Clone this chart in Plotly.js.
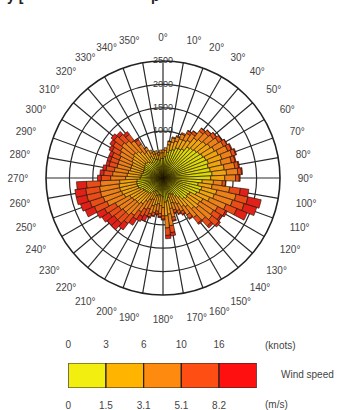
<!DOCTYPE html>
<html>
<head>
<meta charset="utf-8">
<script src="https://cdn.plot.ly/plotly-3.0.1.min.js"></script>
<style>
  html, body { margin: 0; padding: 0; background: #fff; }
  #chart { width: 347px; height: 410px; }
</style>
</head>
<body>
<div id="chart"></div>
<script>
// Wind directions (degrees, sector centres)
const directions = [0,5,10,15,20,25,30,35,40,45,50,55,60,65,70,75,80,85,90,95,100,105,110,115,120,125,130,135,140,145,150,155,160,165,170,175,180,185,190,195,200,205,210,215,220,225,230,235,240,245,250,255,260,265,270,275,280,285,290,295,300,305,310,315,320,325,330,335,340,345,350,355];

// Counts per speed class (stacked)
const speed0_15 = [420,460,560,610,640,700,710,740,840,870,900,930,960,990,1020,990,1020,1050,1020,840,760,850,830,780,650,630,650,610,530,470,400,380,360,430,500,520,400,380,360,380,400,300,320,360,420,450,450,470,480,540,560,570,570,560,490,470,460,440,440,440,460,470,490,470,440,400,520,460,420,420,390,420];
const speed15_31 = [120,130,160,180,190,210,210,220,240,250,260,270,280,290,300,290,300,310,300,240,300,330,320,300,310,300,310,290,250,260,230,210,200,240,280,290,230,210,200,210,230,200,210,240,280,300,300,310,320,360,370,380,380,370,310,300,290,280,280,280,290,300,310,300,280,250,150,130,120,120,110,120];
const speed31_51 = [60,60,70,90,100,110,160,170,190,200,200,210,220,220,230,220,230,240,230,190,380,420,410,380,360,350,360,330,290,210,180,170,160,190,250,260,180,170,160,170,180,220,230,260,310,330,330,340,350,400,410,420,420,410,320,310,300,290,290,290,300,310,320,310,290,210,70,60,60,60,50,60];
const speed51_82 = [0,0,10,20,20,30,60,60,70,70,80,80,80,80,80,80,80,80,80,70,230,260,260,250,190,180,190,170,150,90,70,70,60,70,150,160,70,70,60,70,70,160,170,190,220,240,240,250,260,290,300,300,300,300,200,190,180,170,170,170,180,190,200,190,170,110,10,0,0,0,0,0];
const speed82up = [0,0,0,0,0,0,10,10,10,10,10,10,10,20,20,20,20,20,20,10,180,290,280,240,40,40,40,50,30,20,20,20,20,20,70,70,20,20,20,20,20,120,120,150,170,180,180,180,190,210,210,230,230,210,80,80,70,70,70,70,70,80,80,80,70,30,0,0,0,0,0,0];

const speedSeries = [speed0_15, speed15_31, speed31_51, speed51_82, speed82up];
const binColors = ['#f2ee10', '#ffb400', '#ff8a10', '#ff4e14', '#ff1010'];
const barColors = ['#dcd80a', '#f0a412', '#ec801a', '#e84c18', '#e2201a'];

// Axis labels
const angleTicks = [0,10,20,30,40,50,60,70,80,90,100,110,120,130,140,150,160,170,180,190,200,210,220,230,240,250,260,270,280,290,300,310,320,330,340,350];
const radialTicks = [1000, 1500, 2000, 2500];
const knotsLabels = ['0', '3', '6', '10', '16'];
const msLabels = ['0', '1.5', '3.1', '5.1', '8.2'];

const traces = speedSeries.map((vals, i) => ({
  type: 'barpolar',
  r: vals,
  theta: directions,
  width: 5,
  marker: { color: barColors[i], line: { color: 'rgba(30,20,0,0.9)', width: 0.7 } },
  showlegend: false,
  hoverinfo: 'skip'
}));

traces.push({
  type: 'scatterpolar',
  mode: 'text',
  r: radialTicks,
  theta: radialTicks.map(() => 0),
  text: radialTicks.map(String),
  textposition: 'middle center',
  textfont: { family: 'Arial, Liberation Sans, sans-serif', size: 9, color: '#333' },
  cliponaxis: false,
  showlegend: false,
  hoverinfo: 'skip'
});

// colour key
const binIdx = binColors.map((c, i) => i);
traces.push({
  type: 'bar',
  x: binIdx,
  y: binIdx.map(() => 1),
  width: 1,
  offset: 0,
  marker: { color: binColors, line: { color: '#222', width: 1.2 } },
  xaxis: 'x', yaxis: 'y',
  showlegend: false,
  hoverinfo: 'skip'
});
traces.push({
  type: 'bar',
  x: binIdx,
  y: binIdx.map(() => 1),
  width: 1,
  offset: 0,
  opacity: 0,
  marker: { color: binColors },
  xaxis: 'x2', yaxis: 'y',
  showlegend: false,
  hoverinfo: 'skip'
});

const font = { family: 'Arial, Liberation Sans, sans-serif', size: 10, color: '#444' };

const layout = {
  width: 347,
  height: 410,
  margin: { l: 0, r: 0, t: 0, b: 0 },
  paper_bgcolor: '#fff',
  plot_bgcolor: '#fff',
  showlegend: false,
  hovermode: false,
  font: font,
  polar: {
    domain: { x: [0.1326, 0.8069], y: [0.2805, 0.8512] },
    bgcolor: '#fff',
    barmode: 'stack',
    angularaxis: {
      rotation: 90,
      direction: 'clockwise',
      tickmode: 'array',
      tickvals: angleTicks,
      ticktext: angleTicks.map(a => a + '°'),
      showline: true,
      linecolor: '#222',
      linewidth: 1.6,
      showgrid: true,
      gridcolor: '#2a2a2a',
      gridwidth: 1.2,
      ticks: 'outside',
      ticklen: 15,
      tickcolor: 'rgba(0,0,0,0)',
      tickfont: font
    },
    radialaxis: {
      range: [0, 2500],
      dtick: 500,
      tick0: 0,
      showticklabels: false,
      showline: false,
      ticks: '',
      showgrid: true,
      gridcolor: '#2a2a2a',
      gridwidth: 1.2
    }
  },
  xaxis: {
    domain: [0.1968, 0.7398],
    anchor: 'y',
    range: [0, 5],
    tickmode: 'array',
    tickvals: binIdx,
    ticktext: msLabels,
    ticks: 'outside',
    ticklen: 8,
    tickcolor: 'rgba(0,0,0,0)',
    showgrid: false,
    zeroline: false,
    showline: false,
    tickfont: font,
    fixedrange: true
  },
  xaxis2: {
    overlaying: 'x',
    side: 'top',
    anchor: 'y',
    range: [0, 5],
    tickmode: 'array',
    tickvals: binIdx,
    ticktext: knotsLabels,
    ticks: 'outside',
    ticklen: 10,
    tickcolor: 'rgba(0,0,0,0)',
    showgrid: false,
    zeroline: false,
    showline: false,
    tickfont: font,
    fixedrange: true
  },
  yaxis: {
    domain: [0.0537, 0.1146],
    range: [0, 1],
    visible: false,
    fixedrange: true
  },
  annotations: [
    { xref: 'paper', yref: 'paper', x: 0.807, y: 0.1585, text: '(knots)', showarrow: false, font: font, xanchor: 'center', yanchor: 'middle' },
    { xref: 'paper', yref: 'paper', x: 0.798, y: 0.0146, text: '(m/s)', showarrow: false, font: font, xanchor: 'center', yanchor: 'middle' },
    { xref: 'paper', yref: 'paper', x: 0.885, y: 0.0854, text: 'Wind speed', showarrow: false, font: font, xanchor: 'center', yanchor: 'middle' },
    { xref: 'paper', yref: 'paper', x: 0.015, y: 1, yshift: -6, text: '<b>y [</b>', showarrow: false, font: { family: 'Arial, Liberation Sans, sans-serif', size: 14, color: '#222' }, xanchor: 'left', yanchor: 'bottom' },
    { xref: 'paper', yref: 'paper', x: 0.43, y: 1, yshift: -6, text: '<b>p</b>', showarrow: false, font: { family: 'Arial, Liberation Sans, sans-serif', size: 14, color: '#222' }, xanchor: 'left', yanchor: 'bottom' }
  ]
};

Plotly.newPlot('chart', traces, layout, { displayModeBar: false, staticPlot: true });
</script>
</body>
</html>
